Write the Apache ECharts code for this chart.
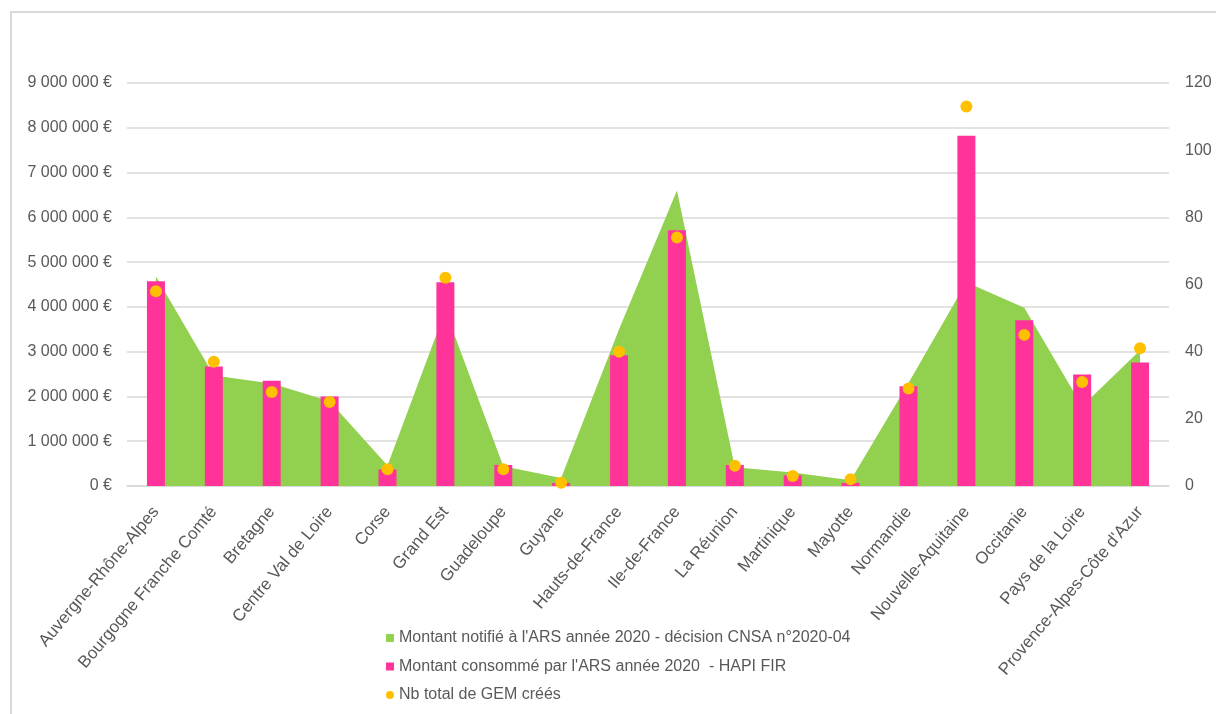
<!DOCTYPE html>
<html>
<head>
<meta charset="utf-8">
<script src="https://cdn.jsdelivr.net/npm/echarts@6/dist/echarts.min.js"></script>
<style>
html,body{margin:0;padding:0;background:#fff;}
#chart{width:1216px;height:714px;}
</style>
</head>
<body>
<div id="chart"></div>
<script>
var categories = ['Auvergne-Rhône-Alpes','Bourgogne Franche Comté','Bretagne','Centre Val de Loire','Corse','Grand Est','Guadeloupe','Guyane','Hauts-de-France','Ile-de-France','La Réunion','Martinique','Mayotte','Normandie','Nouvelle-Aquitaine','Occitanie','Pays de la Loire',"Provence-Alpes-Côte d'Azur"];
var montantNotifie = [4680000,2470000,2290000,1890000,460000,3920000,440000,180000,3500000,6600000,420000,300000,130000,2300000,4550000,3980000,1780000,3030000];
var montantConsomme = [4570000,2670000,2350000,2000000,370000,4550000,470000,70000,2920000,5710000,470000,240000,70000,2230000,7820000,3700000,2490000,2760000];
var nbGem = [58,37,28,25,5,62,5,1,40,74,6,3,2,29,113,45,31,41];
var leftTickLabels = ['0 €','1 000 000 €','2 000 000 €','3 000 000 €','4 000 000 €','5 000 000 €','6 000 000 €','7 000 000 €','8 000 000 €','9 000 000 €'];
var rightTickLabels = ['0','20','40','60','80','100','120'];
var seriesNames = ["Montant notifié à l'ARS année 2020 - décision CNSA n°2020-04", "Montant consommé par l'ARS année 2020  - HAPI FIR", "Nb total de GEM créés"];

var chart = echarts.init(document.getElementById('chart'));
var font = 'Liberation Sans, Arial, sans-serif';
var txt = '#595959';
chart.setOption({
  animation: false,
  backgroundColor: '#ffffff',
  textStyle: {fontFamily: font},
  graphic: [{
    type: 'rect', silent: true, z: 100,
    shape: {x: 11, y: 12, width: 1400, height: 900},
    style: {fill: 'none', stroke: '#d9d9d9', lineWidth: 2}
  }],
  grid: {left: 127, right: 47, top: 83, bottom: 228},
  legend: {
    orient: 'vertical', left: 386, top: 629, padding: 0,
    itemWidth: 8, itemHeight: 8, itemGap: 10.5, selectedMode: false,
    textStyle: {color: txt, fontSize: 16, lineHeight: 18, fontFamily: font},
    data: [
      {name: seriesNames[0], icon: 'rect'},
      {name: seriesNames[1], icon: 'rect'},
      {name: seriesNames[2], icon: 'circle'}
    ]
  },
  xAxis: {
    type: 'category', data: categories, boundaryGap: true,
    axisLine: {show: true, lineStyle: {color: '#d9d9d9', width: 1.5}},
    axisTick: {show: false},
    axisLabel: {interval: 0, rotate: 50, margin: 23, color: txt, fontSize: 17, fontFamily: font}
  },
  yAxis: [{
    type: 'value', min: 0, max: 9000000, interval: 1000000,
    axisLine: {show: false}, axisTick: {show: false},
    splitLine: {lineStyle: {color: '#d9d9d9', width: 1.5}},
    axisLabel: {margin: 15, color: txt, fontSize: 16, fontFamily: font,
      formatter: function (v) { return leftTickLabels[Math.round(v / 1000000)]; }}
  }, {
    type: 'value', min: 0, max: 120, interval: 20, position: 'right',
    axisLine: {show: false}, axisTick: {show: false}, splitLine: {show: false},
    axisLabel: {margin: 16, color: txt, fontSize: 16, fontFamily: font,
      formatter: function (v) { return rightTickLabels[Math.round(v / 20)]; }}
  }],
  series: [{
    name: seriesNames[0], type: 'line', data: montantNotifie, yAxisIndex: 0,
    symbol: 'none', lineStyle: {width: 0}, itemStyle: {color: '#92d050'},
    areaStyle: {color: '#92d050', opacity: 1}, z: 1
  }, {
    name: seriesNames[1], type: 'bar', data: montantConsomme, yAxisIndex: 0,
    barWidth: 18, itemStyle: {color: '#ff3399'}, z: 2
  }, {
    name: seriesNames[2], type: 'scatter', data: nbGem, yAxisIndex: 1,
    symbolSize: 12, itemStyle: {color: '#ffc000', opacity: 1}, z: 3
  }]
});
</script>
</body>
</html>
